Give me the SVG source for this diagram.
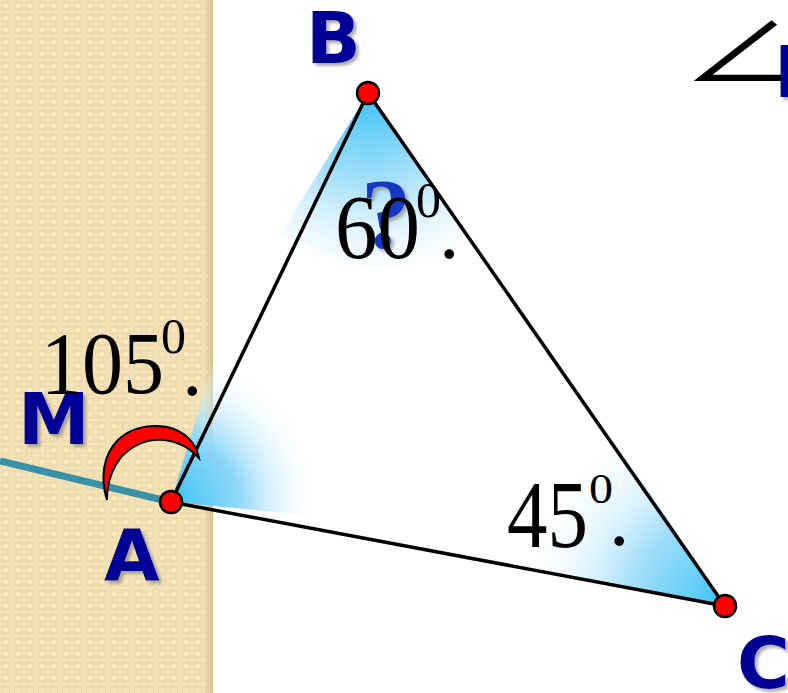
<svg xmlns="http://www.w3.org/2000/svg" width="788" height="693" viewBox="0 0 788 693">
<defs>
<style>
.lbl{font-family:"DejaVu Sans","Liberation Sans",sans-serif;font-weight:bold;font-size:72px;fill:#000096;filter:url(#sh)}
.num{font-family:"Liberation Serif","DejaVu Serif",serif;fill:#000}
.edge{stroke:#000;stroke-width:3.5;fill:none;stroke-linecap:round}
.dot{fill:#ff0000;stroke:#000;stroke-width:2.5}
</style>
<filter id="sh" x="-20%" y="-20%" width="150%" height="150%">
<feDropShadow dx="3" dy="3" stdDeviation="1.5" flood-color="#7a7a7a" flood-opacity="0.6"/>
</filter>
<pattern id="tex" width="12" height="12" patternUnits="userSpaceOnUse">
<rect width="12" height="12" fill="#f6e5b9"/>
<rect x="2.5" y="2.5" width="7" height="7" fill="none" stroke="#e9d6a8" stroke-width="1.2"/>
<rect x="0" y="0" width="12" height="12" fill="none" stroke="#f0ddb0" stroke-width="0.8"/>
</pattern>
<linearGradient id="edgeShade" x1="0" y1="0" x2="1" y2="0">
<stop offset="0" stop-color="#d8c48f" stop-opacity="0"/>
<stop offset="1" stop-color="#cdb782" stop-opacity="0.8"/>
</linearGradient>
<radialGradient id="gB" gradientUnits="userSpaceOnUse" cx="368" cy="93" r="185">
<stop offset="0" stop-color="#3cc3f5"/>
<stop offset="0.5" stop-color="#a9e1fa"/>
<stop offset="1" stop-color="#ffffff" stop-opacity="0.4"/>
</radialGradient>
<radialGradient id="gA" gradientUnits="userSpaceOnUse" cx="171" cy="502" r="150">
<stop offset="0" stop-color="#3cc3f5"/>
<stop offset="0.45" stop-color="#8ed7f8"/>
<stop offset="1" stop-color="#ffffff" stop-opacity="0"/>
</radialGradient>
<radialGradient id="gC" gradientUnits="userSpaceOnUse" cx="725" cy="606" r="210">
<stop offset="0" stop-color="#3cc3f5"/>
<stop offset="0.45" stop-color="#a3def9"/>
<stop offset="1" stop-color="#ffffff" stop-opacity="0"/>
</radialGradient>
</defs>
<rect width="788" height="693" fill="#ffffff"/>
<rect x="0" y="0" width="213" height="693" fill="url(#tex)"/>
<rect x="203" y="0" width="10" height="693" fill="url(#edgeShade)"/>

<g id="shading">
<path d="M368,93 L280,235 L370,272 L440,262 L468,236 Z" fill="url(#gB)"/>
<path d="M171,502 L212,365 Q300,375 315,470 L318,516 Z" fill="url(#gA)"/>
<path d="M725,606 L515,565 L520,480 L615,440 Z" fill="url(#gC)"/>
</g>

<g id="connectors">
<line id="line-MA" x1="0" y1="461" x2="171" y2="502" stroke="#3a90a6" stroke-width="7"/>
<line id="edge-AB" class="edge" x1="171" y1="502" x2="368" y2="93"/>
<line id="edge-BC" class="edge" x1="368" y1="93" x2="725" y2="606"/>
<line id="edge-AC" class="edge" x1="171" y1="502" x2="725" y2="606"/>
</g>

<g id="angle-A-mark">
<path d="M107,500 C100,478 103,455 118,440 C130,428 148,424 167,427 C185,431 196,443 199,458 C190,448 180,442 165,440 C148,438 133,445 122,456 C112,468 107,484 107,500 Z" fill="#ff0000" stroke="#000" stroke-width="2"/>
</g>

<g id="node-A">
<circle class="dot" cx="171" cy="502" r="11"/>
<text class="lbl" x="104" y="580">A</text>
</g>
<g id="node-B">
<circle class="dot" cx="368" cy="93" r="11"/>
<text class="lbl" x="306" y="63">B</text>
</g>
<g id="node-C">
<circle class="dot" cx="725" cy="606" r="11"/>
<text class="lbl" x="737" y="688">C</text>
</g>
<g id="node-M">
<text class="lbl" x="18" y="444">M</text>
</g>

<g id="angle-labels">
<text x="361" y="247" font-family="'Liberation Serif',serif" font-weight="bold" font-size="100" fill="#1438c0" filter="url(#sh)">?</text>
<text class="num" font-size="82" transform="translate(41,393) scale(1,1.09)">105</text>
<text class="num" font-size="50" x="161" y="353">0</text>
<text class="num" font-size="82" x="182" y="395">.</text>
<text class="num" font-size="85" transform="translate(335,258) scale(1,1.06)">60</text>
<text class="num" font-size="50" x="416" y="217">0</text>
<text class="num" font-size="82" x="439" y="258">.</text>
<text class="num" font-size="81" transform="translate(507,547) scale(1,1.18)">45</text>
<text class="num" font-size="48" transform="translate(589,503) scale(1,0.87)">0</text>
<text class="num" font-size="82" x="609" y="545">.</text>
</g>

<g id="title-partial">
<text font-family="'Noto Sans CJK SC',sans-serif" font-size="90" fill="#000" transform="translate(682,83) scale(1.3,1)">∠</text>
<text class="lbl" x="774" y="97">B</text>
</g>
</svg>
